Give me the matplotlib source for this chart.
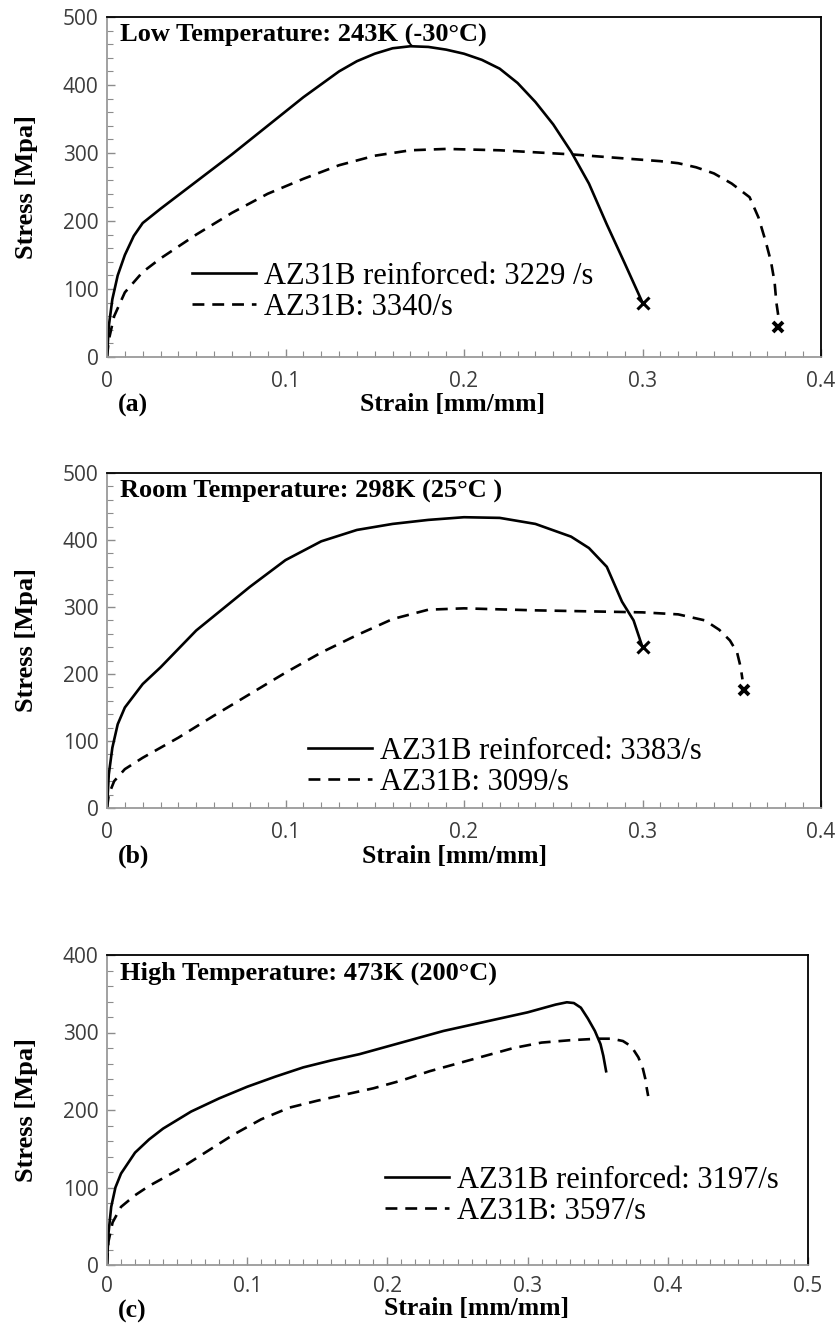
import matplotlib
matplotlib.use("Agg")
import matplotlib.pyplot as plt
from matplotlib.ticker import MultipleLocator

# ---------------- data ----------------
a_solid_strain = [0, 0.001, 0.003, 0.006, 0.01, 0.015, 0.02, 0.03, 0.04, 0.05, 0.07, 0.09, 0.11, 0.13, 0.14,
                  0.15, 0.16, 0.17, 0.18, 0.19, 0.20, 0.21, 0.22, 0.23, 0.24, 0.25, 0.26, 0.27, 0.28, 0.29, 0.30]
a_solid_stress = [0, 45, 85, 120, 150, 178, 197, 218, 238, 258, 298, 340, 382, 420, 435,
                  446, 454, 457, 456, 452, 446, 437, 424, 403, 375, 342, 302, 255, 195, 138, 80]
a_dash_strain = [0, 0.001, 0.004, 0.01, 0.02, 0.03, 0.05, 0.07, 0.09, 0.11, 0.13, 0.15, 0.17, 0.19, 0.22,
                 0.26, 0.30, 0.31, 0.32, 0.33, 0.34, 0.35, 0.355, 0.36, 0.365, 0.369, 0.372, 0.374, 0.375, 0.376]
a_dash_stress = [0, 25, 60, 95, 125, 145, 180, 212, 240, 262, 282, 296, 304, 306, 304,
                 298, 290, 288, 285, 279, 270, 255, 245, 235, 205, 170, 140, 110, 80, 62]
a_solid_end = (0.30, 80)
a_dash_end = (0.376, 44)

b_solid_strain = [0, 0.001, 0.003, 0.006, 0.01, 0.02, 0.03, 0.05, 0.08, 0.10, 0.12, 0.14, 0.16, 0.18,
                  0.20, 0.22, 0.24, 0.26, 0.27, 0.28, 0.2885, 0.295, 0.30]
b_solid_stress = [0, 50, 90, 125, 150, 185, 210, 265, 330, 370, 398, 415, 424, 430,
                  434, 433, 424, 405, 388, 360, 308, 280, 240]
b_dash_strain = [0, 0.001, 0.004, 0.01, 0.02, 0.04, 0.06, 0.08, 0.10, 0.12, 0.14, 0.16, 0.18, 0.20,
                 0.24, 0.28, 0.30, 0.32, 0.335, 0.343, 0.349, 0.353, 0.355, 0.356]
b_dash_stress = [0, 20, 40, 58, 75, 105, 138, 170, 202, 232, 258, 282, 296, 298,
                 295, 293, 292, 289, 280, 266, 250, 232, 210, 192]
b_solid_end = (0.30, 240)
b_dash_end = (0.357, 176)

c_solid_strain = [0, 0.001, 0.003, 0.006, 0.01, 0.02, 0.03, 0.04, 0.06, 0.08, 0.10, 0.12, 0.14, 0.16,
                  0.18, 0.20, 0.22, 0.24, 0.26, 0.28, 0.30, 0.31, 0.32, 0.328, 0.333, 0.338, 0.343,
                  0.348, 0.352, 0.354, 0.356]
c_solid_stress = [0, 40, 75, 100, 118, 145, 162, 176, 198, 215, 230, 243, 255, 264,
                  272, 282, 292, 302, 310, 318, 326, 331, 336, 339, 338, 332, 318,
                  302, 285, 270, 250]
c_dash_strain = [0, 0.001, 0.004, 0.01, 0.02, 0.03, 0.05, 0.07, 0.09, 0.11, 0.13, 0.15, 0.17, 0.19,
                 0.21, 0.23, 0.25, 0.27, 0.29, 0.31, 0.33, 0.35, 0.36, 0.368, 0.374, 0.379, 0.382,
                 0.384, 0.385, 0.386]
c_dash_stress = [0, 30, 55, 75, 90, 102, 122, 145, 168, 188, 203, 212, 220, 228,
                 238, 250, 260, 270, 280, 287, 290, 292, 292, 289, 282, 268, 255,
                 240, 228, 218]

titles = ["Low Temperature: 243K (-30°C)", "Room Temperature: 298K (25°C )", "High Temperature: 473K (200°C)"]
solid_labels = ["AZ31B reinforced: 3229 /s", "AZ31B reinforced: 3383/s", "AZ31B reinforced: 3197/s"]
dash_labels = ["AZ31B: 3340/s", "AZ31B: 3099/s", "AZ31B: 3597/s"]
panel_tags = ["(a)", "(b)", "(c)"]
x_label = "Strain [mm/mm]"
y_label = "Stress [Mpa]"
x_limits = [0.4, 0.4, 0.5]
y_limits = [500, 500, 400]

# ---------------- figure ----------------
W, H = 839, 1324
fig = plt.figure(figsize=(W / 100, H / 100), dpi=100)

def frac(left, top, right, bottom):
    return [left / W, 1 - bottom / H, (right - left) / W, (bottom - top) / H]

def fx(px):
    return px / W

def fy(py):
    return 1 - py / H

panel_px = [(107, 17, 821, 357), (107, 473, 821, 808), (107, 955, 808, 1265)]
legend_anchor = [(192, 262), (308, 737), (385, 1166)]      # (x, y top) in px
xlabel_pos = [(452, 404), (455, 856), (477, 1309)]           # centre, px
tag_pos = [(118, 405), (118, 856), (118, 1311)]              # left, centre px
tick_pad = [10, 10, 8]
ylabel_x = 26

serif = ["Liberation Serif", "DejaVu Serif"]
sans = ["Open Sans", "DejaVu Sans"]
tick_col = "#3c3c3c"

data = [
    (a_solid_strain, a_solid_stress, a_dash_strain, a_dash_stress, a_solid_end, a_dash_end),
    (b_solid_strain, b_solid_stress, b_dash_strain, b_dash_stress, b_solid_end, b_dash_end),
    (c_solid_strain, c_solid_stress, c_dash_strain, c_dash_stress, None, None),
]

for i in range(3):
    l, t, r, b = panel_px[i]
    ax = fig.add_axes(frac(l, t, r, b))
    ss, sv, ds, dv, se, de = data[i]
    l1, = ax.plot(ss, sv, color="black", lw=1.9, solid_joinstyle="round")
    l2, = ax.plot(ds, dv, color="black", lw=1.9, dashes=(4.5, 3))
    if se is not None:
        ax.plot([se[0]], [se[1]], marker="x", color="black", ms=9, mew=2.2, ls="none")
        ax.plot([de[0]], [de[1]], marker="x", color="black", ms=7, mew=2.8, ls="none")
    ax.set_xlim(0, x_limits[i])
    ax.set_ylim(0, y_limits[i])
    ax.xaxis.set_major_locator(MultipleLocator(0.1))
    ax.xaxis.set_minor_locator(MultipleLocator(0.01))
    ax.yaxis.set_major_locator(MultipleLocator(100))
    ax.yaxis.set_minor_locator(MultipleLocator(20))
    ax.tick_params(which="both", direction="in", colors="#8c8c8c", labelcolor=tick_col,
                   top=False, right=False)
    ax.tick_params(which="major", length=6, width=1)
    ax.tick_params(which="minor", length=4, width=0.8)
    ax.tick_params(axis="x", pad=tick_pad[i])
    ax.tick_params(axis="y", pad=6)
    ax.set_xticklabels([("0" if abs(v) < 1e-9 else f"{v:.1f}") for v in ax.get_xticks()])
    for lab in ax.get_xticklabels() + ax.get_yticklabels():
        lab.set_fontfamily(sans)
        lab.set_fontsize(15)
    for s in ["left", "bottom"]:
        ax.spines[s].set_color("#9a9a9a")
        ax.spines[s].set_linewidth(1.3)
    for s in ["top", "right"]:
        ax.spines[s].set_color("black")
        ax.spines[s].set_linewidth(1.3)
    # panel title
    fig.text(fx(120), fy(t + 25), titles[i], ha="left", va="baseline",
             family=serif, fontweight="bold", fontsize=19)
    # axis labels
    fig.text(fx(ylabel_x), fy((t + b) / 2), y_label, rotation=90, ha="center", va="center",
             family=serif, fontweight="bold", fontsize=19)
    xl, yl = xlabel_pos[i]
    fig.text(fx(xl), fy(yl), x_label, ha="center", va="center",
             family=serif, fontweight="bold", fontsize=18.5)
    tx, ty = tag_pos[i]
    fig.text(fx(tx), fy(ty), panel_tags[i], ha="left", va="center",
             family=serif, fontweight="bold", fontsize=18.5)
    lx, ly = legend_anchor[i]
    ax.legend([l1, l2], [solid_labels[i], dash_labels[i]], loc="upper left",
              bbox_to_anchor=(fx(lx), fy(ly)), bbox_transform=fig.transFigure,
              frameon=False, prop={"family": serif, "size": 22}, handlelength=2.1,
              handletextpad=0.25, labelspacing=0.05, borderpad=0, borderaxespad=0)

fig.savefig("out.png", dpi=100)
